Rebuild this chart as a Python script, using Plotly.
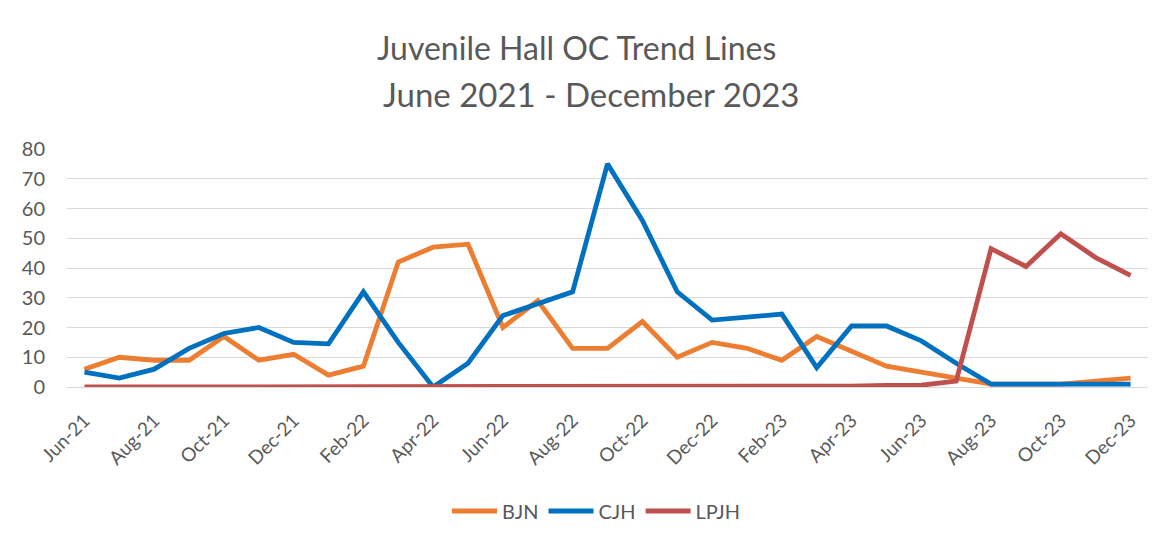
import plotly.graph_objects as go

months = ["Jun-21","Jul-21","Aug-21","Sep-21","Oct-21","Nov-21","Dec-21",
          "Jan-22","Feb-22","Mar-22","Apr-22","May-22","Jun-22","Jul-22","Aug-22","Sep-22","Oct-22","Nov-22","Dec-22",
          "Jan-23","Feb-23","Mar-23","Apr-23","May-23","Jun-23","Jul-23","Aug-23","Sep-23","Oct-23","Nov-23","Dec-23"]

bjn = [6, 10, 9, 9, 17, 9, 11, 4, 7, 42, 47, 48, 20, 29, 13, 13, 22, 10, 15, 13, 9, 17, 12, 7, 5, 3, 1, 1, 1, 2, 3]
cjh = [5, 3, 6, 13, 18, 20, 15, 14.5, 32, 15, 0, 8, 24, 28, 32, 75, 56, 32, 22.5, 23.5, 24.5, 6.5, 20.5, 20.5, 15.5, 8, 1, 1, 1, 1, 1]
lpjh = [0, 0, 0, 0, 0, 0, 0, 0, 0, 0, 0, 0, 0, 0, 0, 0, 0, 0, 0, 0, 0, 0, 0.3, 0.5, 0.6, 2, 46.5, 40.5, 51.5, 43.5, 37.5]

tick_labels = months[::2]
y_ticks = [0, 10, 20, 30, 40, 50, 60, 70, 80]
title_lines = ["Juvenile Hall OC Trend Lines", "June 2021 - December 2023"]

FONT = "Lato"
GREY = "#595959"

fig = go.Figure()
for name, vals, col in [("BJN", bjn, "#ED7D31"), ("CJH", cjh, "#0070C0"), ("LPJH", lpjh, "#C0504D")]:
    fig.add_trace(go.Scatter(x=months, y=vals, mode="lines", name=name,
                             line=dict(color=col, width=4.8)))

W, H = 1175, 547
OFF = 8  # page body margin
left, right, top, bottom = 67 - OFF, 1148 - OFF, 149 - OFF, 387 - OFF
ph = bottom - top
pw = right - left
fig.update_layout(
    width=W, height=H,
    margin=dict(l=left, r=W - right, t=top, b=H - bottom, autoexpand=False),
    paper_bgcolor="white", plot_bgcolor="white",
    font=dict(family=FONT, color=GREY),
    showlegend=True,
    legend=dict(orientation="h", x=(596 - OFF - left) / pw, xanchor="center",
                y=(bottom - (511 - OFF)) / ph, yanchor="middle",
                font=dict(family=FONT, size=20, color=GREY),
                itemwidth=45, tracegroupgap=0),
)
for txt, cx, py, fs in zip(title_lines, [576, 591], [48, 94], [32, 33]):
    fig.add_annotation(text=txt, xref="paper", yref="paper",
                       x=(cx - OFF - left) / pw, y=(bottom - (py - OFF)) / ph,
                       xanchor="center", yanchor="middle", showarrow=False,
                       font=dict(family=FONT, size=fs, color=GREY))
fig.update_xaxes(type="category", range=[-0.5, len(months) - 0.5],
                 tickmode="array", tickvals=tick_labels, ticktext=tick_labels,
                 tickangle=-45, tickfont=dict(family=FONT, size=19, color=GREY),
                 showgrid=False, showline=True, linecolor="#D9D9D9", linewidth=1,
                 ticks="", zeroline=False, automargin=False, ticklabelstandoff=14)
fig.update_yaxes(range=[0, 80], tickmode="array", tickvals=y_ticks,
                 tickfont=dict(family=FONT, size=20, color=GREY),
                 showgrid=True, gridcolor="#D9D9D9", gridwidth=1,
                 showline=False, zeroline=False, ticks="", ticklabelstandoff=21,
                 automargin=False)

fig.write_html("out.html")
